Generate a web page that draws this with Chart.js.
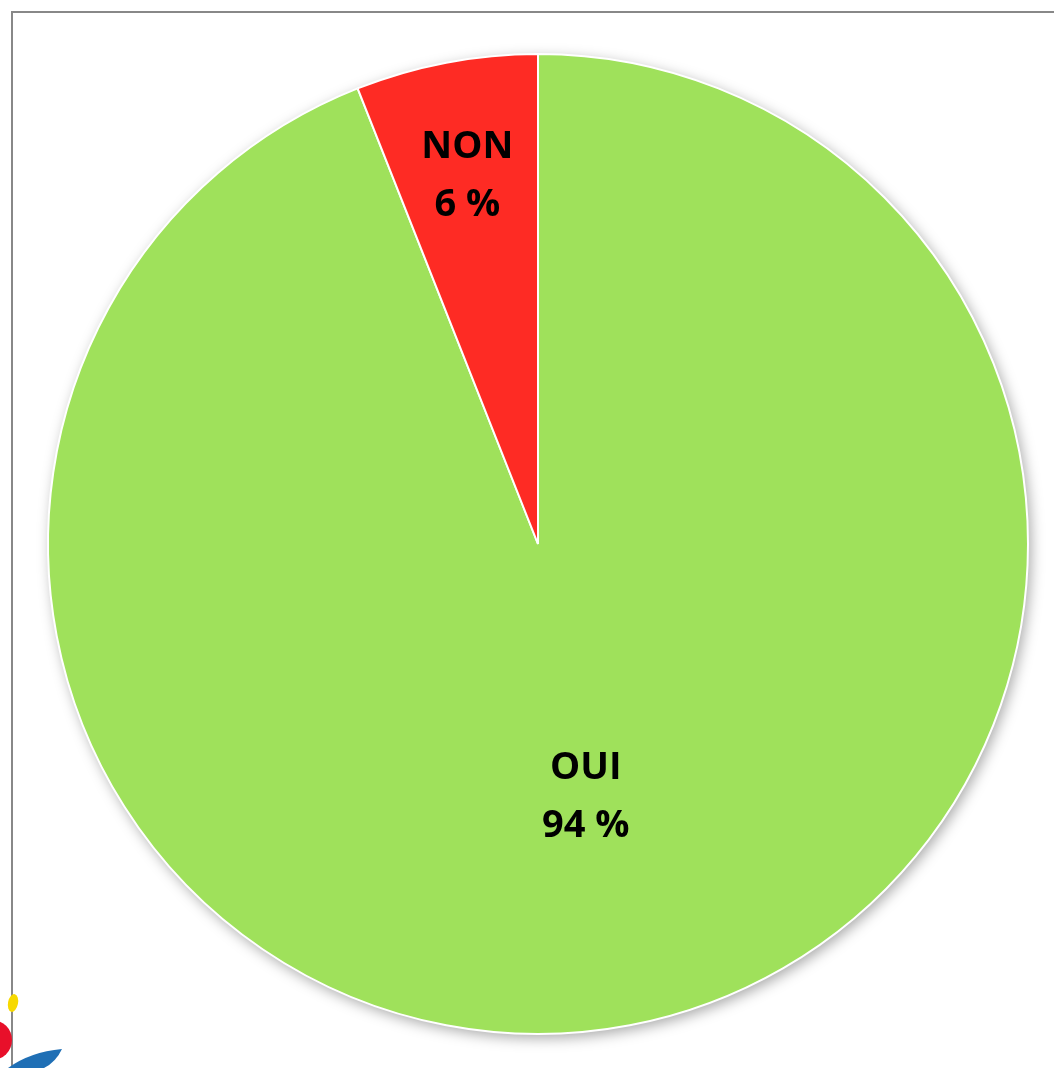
<!DOCTYPE html>
<html>
<head>
<meta charset="utf-8">
<script src="https://cdn.jsdelivr.net/npm/chart.js@4.4.1/dist/chart.umd.min.js"></script>
<style>
    html, body { margin: 0; padding: 0; background: #ffffff; }
    #wrap { width: 1054px; height: 1068px; position: relative; }
</style>
</head>
<body>
<div id="wrap"><canvas id="pie"></canvas></div>
<script>
const CATEGORIES = ['OUI', 'NON'];
const VALUES     = [94, 6];
const PCT_LABELS = ['94 %', '6 %'];
const COLORS     = ['#9fe15b', '#fe2b24'];

// where each label sits, as a share of the radius
const LABEL_RADIUS = [0.52, 0.77];
const LABEL_FONT   = 'bold 38px "Open Sans", Lato, sans-serif';

// gray frame of the original slide + soft drop shadow under the pie
const framePlugin = {
    id: 'frame',
    beforeDraw(chart) {
        const c = chart.ctx;
        c.save();
        c.strokeStyle = '#888888';
        c.lineWidth = 2;
        c.beginPath();
        c.moveTo(12, 1068);
        c.lineTo(12, 12);
        c.lineTo(1054, 12);
        c.stroke();

        // bits of the logo cut off at the bottom-left corner
        c.fillStyle = '#f7d900';
        c.beginPath();
        c.ellipse(13, 1003, 5, 9, 0.2, 0, Math.PI * 2);
        c.fill();
        c.fillStyle = '#e8102a';
        c.beginPath();
        c.arc(-8, 1040, 20, 0, Math.PI * 2);
        c.fill();
        c.fillStyle = '#1f6fb5';
        c.beginPath();
        c.moveTo(8, 1068);
        c.quadraticCurveTo(30, 1052, 62, 1049);
        c.quadraticCurveTo(56, 1062, 44, 1068);
        c.closePath();
        c.fill();
        c.restore();
    },
    beforeDatasetsDraw(chart) {
        const arc = chart.getDatasetMeta(0).data[0];
        if (!arc) return;
        const c = chart.ctx;
        c.save();
        c.shadowColor = 'rgba(0,0,0,0.35)';
        c.shadowBlur = 14;
        c.shadowOffsetX = 3;
        c.shadowOffsetY = 4;
        c.fillStyle = '#ffffff';
        c.beginPath();
        c.arc(arc.x, arc.y, arc.outerRadius, 0, Math.PI * 2);
        c.fill();
        c.restore();
    }
};

const labelPlugin = {
    id: 'sliceLabels',
    afterDatasetsDraw(chart) {
        const c = chart.ctx;
        const meta = chart.getDatasetMeta(0);
        c.save();
        c.fillStyle = '#000000';
        c.font = LABEL_FONT;
        c.textAlign = 'center';
        c.textBaseline = 'middle';
        meta.data.forEach((arc, i) => {
            const mid = (arc.startAngle + arc.endAngle) / 2;
            const r = arc.outerRadius * LABEL_RADIUS[i];
            const x = arc.x + Math.cos(mid) * r;
            const y = arc.y + Math.sin(mid) * r + 3;
            c.fillText(CATEGORIES[i], x, y - 29);
            c.fillText(PCT_LABELS[i], x, y + 29);
        });
        c.restore();
    }
};

function draw() {
    new Chart(document.getElementById('pie'), {
        type: 'pie',
        data: {
            labels: CATEGORIES,
            datasets: [{
                data: VALUES,
                backgroundColor: COLORS,
                borderColor: '#ffffff',
                borderWidth: 2,
            }],
        },
        options: {
            responsive: true,
            maintainAspectRatio: false,
            animation: false,
            layout: { padding: { left: 47, right: 25, top: 53, bottom: 33 } },
            plugins: {
                legend: { display: false },
                tooltip: { enabled: false },
            },
        },
        plugins: [framePlugin, labelPlugin],
    });
}

document.fonts.load(LABEL_FONT).then(draw, draw);
</script>
</body>
</html>
